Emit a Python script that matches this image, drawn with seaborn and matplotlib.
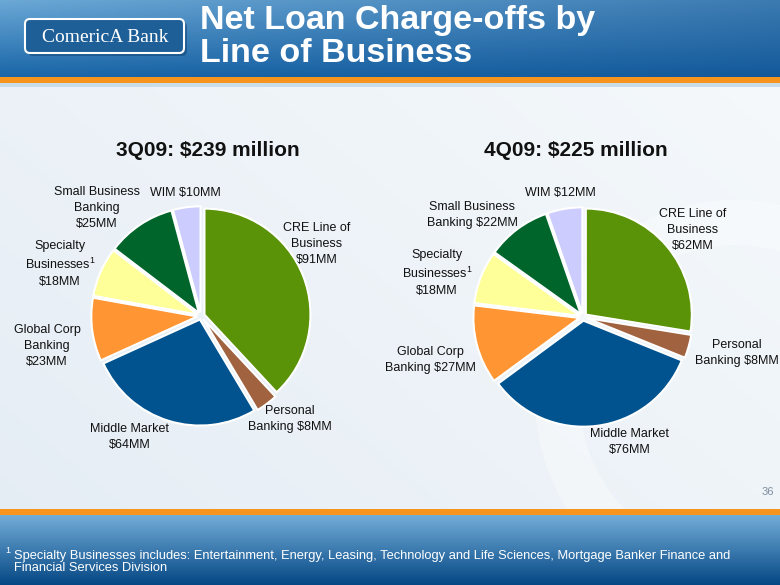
import numpy as np
import matplotlib
matplotlib.use("Agg")
import matplotlib.pyplot as plt
import seaborn as sns
from matplotlib.patches import FancyBboxPatch, Rectangle, Wedge

# ---------------- data ----------------
segments = ["CRE Line of Business", "Personal Banking", "Middle Market",
            "Global Corp Banking", "Specialty Businesses", "Small Business Banking", "WIM"]
q3_values = [91, 8, 64, 23, 18, 25, 10]
q4_values = [62, 8, 76, 27, 18, 22, 12]
q3_labels = ["CRE Line of\nBusiness\n$91MM", "Personal\nBanking $8MM", "Middle Market\n$64MM",
             "Global Corp\nBanking\n$23MM", "Specialty\nBusinesses$^1$\n$18MM",
             "Small Business\nBanking\n$25MM", "WIM $10MM"]
q4_labels = ["CRE Line of\nBusiness\n$62MM", "Personal\nBanking $8MM", "Middle Market\n$76MM",
             "Global Corp\nBanking $27MM", "Specialty\nBusinesses$^1$\n$18MM",
             "Small Business\nBanking $22MM", "WIM $12MM"]
q3_title = "3Q09: $239 million"
q4_title = "4Q09: $225 million"
slice_colors = ["#5A9208", "#A0623F", "#00538F", "#FF9533", "#FFFF99", "#00652B", "#CCCCFF"]

sns.set_theme(style="white")
plt.rcParams['font.family'] = ['Liberation Sans', 'DejaVu Sans']
plt.rcParams['mathtext.fontset'] = 'custom'
plt.rcParams['mathtext.rm'] = 'Liberation Sans'
plt.rcParams['mathtext.it'] = 'Liberation Sans'

W, H = 780, 585
fig = plt.figure(figsize=(7.8, 5.85), dpi=100)

def px(x, y):
    return x / W, 1 - y / H

# ---------------- background ----------------
bg = fig.add_axes([0, 0, 1, 1], zorder=0)
bg.set_xlim(0, W); bg.set_ylim(H, 0); bg.axis("off")

# body gradient
xx = np.linspace(0, 1, 200)
yy = np.linspace(0, 1, 200)
X, Y = np.meshgrid(xx, yy)
c1 = np.array([0.90, 0.93, 0.96]); c2 = np.array([0.96, 0.975, 0.985])
t = (0.6 * X + 0.4 * (1 - Y))[..., None]
body = c1 * (1 - t) + c2 * t
bg.imshow(body, extent=[0, W, 510, 80], aspect="auto", zorder=0)

# watermark ring
bg.add_patch(Wedge((735, 400), 200, 95, 300, width=45, facecolor="#ffffff", alpha=0.35,
                   edgecolor="none", zorder=1))

# header gradient
hx = np.linspace(0, 1, 300)
hy = np.linspace(0, 1, 100)
HX, HY = np.meshgrid(hx, hy)
top = np.array([0.42, 0.66, 0.84]); bot = np.array([0.10, 0.40, 0.66]); right = np.array([0.05, 0.30, 0.55])
tt = HY[..., None]
hdr = top * (1 - tt) + bot * tt
hdr = hdr * (1 - 0.5 * HX[..., None]) + right * 0.5 * HX[..., None]
bg.imshow(hdr, extent=[0, W, 77, 0], aspect="auto", zorder=2)
bg.add_patch(Rectangle((0, 77), W, 6, facecolor="#F7941D", edgecolor="none", zorder=3))
bg.add_patch(Rectangle((0, 83), W, 4, facecolor="#c8dcea", edgecolor="none", zorder=3))

# footer gradient
fy = np.linspace(0, 1, 100)[:, None, None] * np.ones((100, 300, 1))
ftop = np.array([0.45, 0.68, 0.85]); fbot = np.array([0.02, 0.28, 0.52])
ftr = ftop * (1 - fy) + fbot * fy
bg.imshow(ftr, extent=[0, W, 585, 515], aspect="auto", zorder=2)
bg.add_patch(Rectangle((0, 509), W, 6, facecolor="#F7941D", edgecolor="none", zorder=3))

# logo
bg.add_patch(FancyBboxPatch((30, 24), 155, 30, boxstyle="round,pad=2,rounding_size=5",
                            facecolor="#0d3f6e", edgecolor="none", alpha=0.5, zorder=3))
bg.add_patch(FancyBboxPatch((27, 21), 155, 30, boxstyle="round,pad=2,rounding_size=5",
                            facecolor="#1f5f98", edgecolor="white", linewidth=1.5, zorder=4))
bg.text(105, 37, "ComericA Bank", color="white", fontsize=14, family="Liberation Serif",
        ha="center", va="center", zorder=5)

# title
bg.text(200, 21, "Net Loan Charge-offs by", color="white", fontsize=24.5, fontweight="bold",
        ha="left", va="center", zorder=5)
bg.text(200, 54, "Line of Business", color="white", fontsize=24.5, fontweight="bold",
        ha="left", va="center", zorder=5)

# page number & footnote
bg.text(768, 492, "36", color="#7f8fa0", fontsize=8, ha="center", va="center", zorder=5)
bg.text(5, 554, "$^1$", color="white", fontsize=9.3, ha="left", va="center", zorder=5)
bg.text(14, 562, "Specialty Businesses includes: Entertainment, Energy, Leasing, Technology and Life Sciences, "
        "Mortgage Banker Finance and\nFinancial Services Division", color="white", fontsize=9.3,
        ha="left", va="center", linespacing=0.95, zorder=5)

# ---------------- pies ----------------
S = 300
L = 1.415

def draw_pie(cx, cy, values, labels, title, tx, label_pos):
    ax = fig.add_axes([(cx - S / 2) / W, 1 - (cy + S / 2) / H, S / W, S / H], zorder=5)
    ax.pie(values, colors=sns.color_palette(slice_colors), startangle=90, counterclock=False,
           explode=[0.035] * len(values), radius=1.0,
           wedgeprops=dict(edgecolor="white", linewidth=1.5))
    ax.set_xlim(-L, L); ax.set_ylim(-L, L); ax.set_aspect("equal"); ax.axis("off")
    for lab, (lx, ly) in zip(labels, label_pos):
        fig.text(*px(lx, ly), lab, fontsize=9, ha="center", va="center", color="#111111",
                 linespacing=1.45)
    fig.text(*px(tx, 150), title, fontsize=15, fontweight="bold", ha="center", va="center",
             color="#111111")

draw_pie(201, 316, q3_values, q3_labels, q3_title, 208,
         [(317, 244), (290, 419), (130, 437), (47, 346), (60, 264), (97, 208), (185, 193)])
draw_pie(583, 317, q4_values, q4_labels, q4_title, 576,
         [(693, 230), (737, 353), (630, 442), (430, 360), (437, 273), (472, 215), (560, 193)])

fig.savefig("out.png", dpi=100)
